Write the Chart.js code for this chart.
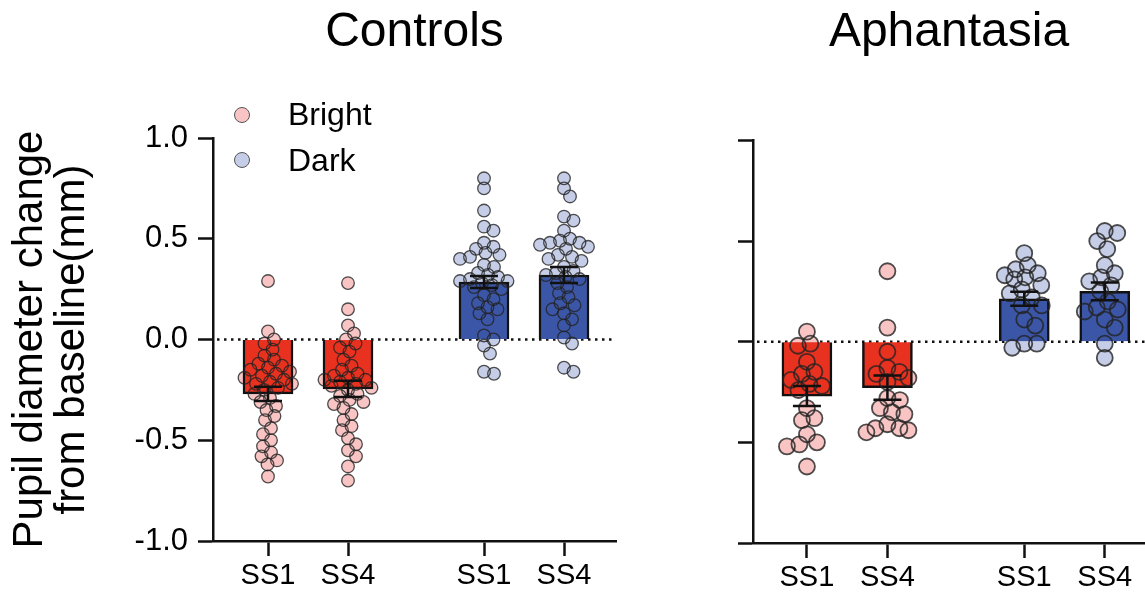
<!DOCTYPE html>
<html>
<head>
<meta charset="utf-8">
<script src="https://cdn.jsdelivr.net/npm/chart.js@4.4.0/dist/chart.umd.min.js"></script>
<style>
  body { margin: 0; background: #fff; width: 1145px; height: 595px; overflow: hidden; position: relative;
         font-family: "Liberation Sans", Arial, Helvetica, sans-serif; }
  canvas { position: absolute; top: 0; }
  #controlsChart { left: 0; }
  #aphantasiaChart { left: 630px; }
  .key { position: absolute; left: 234px; width: 16px; height: 16px; box-sizing: border-box;
         border: 1.2px solid #555; border-radius: 50%; z-index: 2; }
  .key-label { position: absolute; left: 288px; font-size: 32px; line-height: 32px; color: #000; z-index: 2; }
</style>
</head>
<body>
<canvas id="controlsChart" width="630" height="595"></canvas>
<canvas id="aphantasiaChart" width="515" height="595"></canvas>
<div class="key" style="top:107px; background:#F8C4C4"></div>
<div class="key-label" style="top:98px">Bright</div>
<div class="key" style="top:152px; background:#C6CEE7"></div>
<div class="key-label" style="top:144px">Dark</div>
<script>
// x slots: Bright SS1, Bright SS4, Dark SS1, Dark SS4
const ssLabels = ['SS1', 'SS4', 'SS1', 'SS4'];
const xPositions = [1, 2, 3.7, 4.7];
const yTicks = [-1, -0.5, 0, 0.5, 1];
const yTitle = ['Pupil diameter change', 'from baseline(mm)'];

// Controls, individual subjects (mm)
const controlsBrightSS1 = [0.29, 0.04, 0.0, -0.02, -0.05, -0.08, -0.10, -0.12, -0.13, -0.14, -0.15, -0.16, -0.17,
  -0.18, -0.19, -0.20, -0.21, -0.22, -0.22, -0.24, -0.25, -0.27, -0.29, -0.31, -0.33, -0.35, -0.38, -0.40,
  -0.44, -0.47, -0.50, -0.53, -0.56, -0.58, -0.60, -0.62, -0.68];
const controlsBrightSS4 = [0.28, 0.15, 0.07, 0.03, 0.0, -0.02, -0.04, -0.06, -0.10, -0.13, -0.15, -0.17, -0.18,
  -0.19, -0.20, -0.20, -0.21, -0.22, -0.23, -0.24, -0.25, -0.27, -0.28, -0.30, -0.31, -0.32, -0.34, -0.37,
  -0.40, -0.43, -0.45, -0.49, -0.52, -0.55, -0.58, -0.63, -0.70];
const controlsDarkSS1 = [0.80, 0.75, 0.64, 0.56, 0.54, 0.48, 0.46, 0.45, 0.43, 0.42, 0.41, 0.40, 0.37, 0.36,
  0.33, 0.32, 0.31, 0.30, 0.29, 0.29, 0.28, 0.27, 0.26, 0.25, 0.22, 0.20, 0.18, 0.16, 0.15, 0.13, 0.10, 0.02,
  0.0, -0.03, -0.07, -0.16, -0.17];
const controlsDarkSS4 = [0.80, 0.75, 0.71, 0.61, 0.59, 0.54, 0.50, 0.49, 0.48, 0.48, 0.47, 0.46, 0.45, 0.42,
  0.41, 0.40, 0.39, 0.36, 0.34, 0.33, 0.32, 0.31, 0.30, 0.28, 0.26, 0.23, 0.21, 0.18, 0.17, 0.15, 0.13, 0.10,
  0.07, 0.01, -0.02, -0.14, -0.16];
const controlsMeans = [-0.27, -0.245, 0.285, 0.32];
const controlsSem = [0.035, 0.04, 0.03, 0.04];

// Aphantasia, individual subjects (mm)
const aphantasiaBrightSS1 = [0.05, -0.01, -0.02, -0.10, -0.15, -0.16, -0.19, -0.21, -0.22, -0.24, -0.33, -0.38,
  -0.39, -0.46, -0.50, -0.51, -0.52, -0.62];
const aphantasiaBrightSS4 = [0.35, 0.07, -0.05, -0.13, -0.15, -0.16, -0.18, -0.20, -0.28, -0.29, -0.33, -0.35,
  -0.36, -0.41, -0.43, -0.43, -0.44, -0.45];
const aphantasiaDarkSS1 = [0.44, 0.38, 0.36, 0.34, 0.33, 0.32, 0.31, 0.28, 0.26, 0.24, 0.22, 0.18, 0.18, 0.11,
  0.08, -0.01, -0.01, -0.03];
const aphantasiaDarkSS4 = [0.55, 0.54, 0.50, 0.46, 0.38, 0.34, 0.32, 0.30, 0.28, 0.25, 0.20, 0.17, 0.16, 0.15,
  0.11, 0.07, -0.01, -0.08];
const aphantasiaMeans = [-0.27, -0.228, 0.213, 0.25];
const aphantasiaSem = [0.05, 0.06, 0.035, 0.044];

Chart.defaults.font.family = '"Liberation Sans", Arial, Helvetica, sans-serif';
Chart.defaults.color = '#000';

const BRIGHT_BAR = '#E8321F';
const DARK_BAR = '#3B56A6';
const BRIGHT_DOT = '#F8C4C4';
const DARK_DOT = '#C6CEE7';
const DOT_EDGE = 'rgba(35, 35, 35, 0.8)';

// dotted line at zero
const zeroLinePlugin = {
  id: 'zeroLine',
  beforeDatasetsDraw(chart) {
    const { ctx, chartArea, scales: { y } } = chart;
    const py = y.getPixelForValue(0);
    ctx.save();
    ctx.setLineDash([2.5, 4.5]);
    ctx.lineWidth = 2.5;
    ctx.strokeStyle = '#111';
    ctx.beginPath();
    ctx.moveTo(chartArea.left + 4, py);
    ctx.lineTo(chartArea.right, py);
    ctx.stroke();
    ctx.restore();
  }
};

// mean +/- SEM whiskers
const errorBarPlugin = {
  id: 'errorBars',
  afterDatasetsDraw(chart, args, opts) {
    const { ctx, scales: { x, y } } = chart;
    ctx.save();
    ctx.strokeStyle = '#111';
    ctx.lineWidth = 2.5;
    opts.means.forEach((m, i) => {
      const px = x.getPixelForValue(xPositions[i]);
      const lo = y.getPixelForValue(m - opts.sems[i]);
      const hi = y.getPixelForValue(m + opts.sems[i]);
      ctx.beginPath();
      ctx.moveTo(px, lo); ctx.lineTo(px, hi);
      ctx.moveTo(px - 14, lo); ctx.lineTo(px + 14, lo);
      ctx.moveTo(px - 14, hi); ctx.lineTo(px + 14, hi);
      ctx.stroke();
    });
    ctx.restore();
  }
};

// spread points sideways so they don't sit on top of each other
function swarmOffsets(values, yScale, minGap, maxSpread) {
  const placed = [];
  return values.map(v => {
    const py = yScale.getPixelForValue(v);
    let best = 0, bestDist = -1;
    for (let k = 0; k <= maxSpread * 4; k++) {
      const off = (k % 2 ? 1 : -1) * Math.ceil(k / 2) * 0.5;
      let d = Infinity;
      placed.forEach(p => { d = Math.min(d, Math.hypot(p.x - off, p.y - py)); });
      if (d >= minGap) { best = off; bestDist = d; break; }
      if (d > bestDist) { best = off; bestDist = d; }
    }
    placed.push({ x: best, y: py });
    return best;
  });
}

function buildPanel(canvasId, p) {
  const pts = (groups) => groups.flatMap(g => g.values.map(v => ({ x: xPositions[g.slot], y: v })));
  const brightGroups = [{ slot: 0, values: p.groups[0] }, { slot: 1, values: p.groups[1] }];
  const darkGroups = [{ slot: 2, values: p.groups[2] }, { slot: 3, values: p.groups[3] }];

  const dotFill = (label, groups, color) => ({
    type: 'scatter', label, data: pts(groups), order: 4,
    pointRadius: p.dotRadius, pointBackgroundColor: color, pointBorderWidth: 0
  });
  const dotEdge = (label, groups) => ({
    type: 'scatter', label, data: pts(groups), order: 2,
    pointRadius: p.dotRadius, pointBackgroundColor: 'rgba(0,0,0,0)',
    pointBorderColor: DOT_EDGE, pointBorderWidth: p.dotBorder
  });

  const chart = new Chart(document.getElementById(canvasId), {
    type: 'bar',
    data: {
      datasets: [
        { label: 'Bright', data: [0, 1].map(i => ({ x: xPositions[i], y: p.means[i] })),
          backgroundColor: BRIGHT_BAR, borderColor: '#111', borderWidth: 2.5, barThickness: 50, grouped: false, order: 3 },
        { label: 'Dark', data: [2, 3].map(i => ({ x: xPositions[i], y: p.means[i] })),
          backgroundColor: DARK_BAR, borderColor: '#111', borderWidth: 2.5, barThickness: 50, grouped: false, order: 3 },
        dotFill('Bright', brightGroups, BRIGHT_DOT),
        dotFill('Dark', darkGroups, DARK_DOT),
        dotEdge('Bright', brightGroups),
        dotEdge('Dark', darkGroups)
      ]
    },
    options: {
      responsive: false,
      animation: false,
      events: [],
      layout: { autoPadding: false, padding: { left: 0, right: p.padRight, top: 0, bottom: 0 } },
      plugins: {
        legend: { display: false },
        tooltip: { enabled: false },
        title: {
          display: true, text: p.title, fullSize: false, color: '#000',
          font: { size: 48, weight: 'normal', lineHeight: 1.2 },
          padding: { top: 4, bottom: p.titleGap }
        },
        errorBars: { means: p.means, sems: p.sems }
      },
      scales: {
        x: {
          type: 'linear', min: p.xMin, max: p.xMax, offset: false,
          afterBuildTicks: axis => { axis.ticks = xPositions.map(v => ({ value: v })); },
          afterFit: axis => { axis.height = p.xAxisHeight; axis.paddingLeft = 0; axis.paddingRight = 0; },
          border: { color: '#111', width: 2.5 },
          grid: { offset: false, drawOnChartArea: false, tickLength: 15, tickWidth: 2.5, tickColor: '#111' },
          ticks: { padding: 3, font: { size: 29 }, color: '#000', maxRotation: 0, autoSkip: false,
                   callback: v => ssLabels[xPositions.indexOf(v)] }
        },
        y: {
          min: -1, max: 1,
          afterBuildTicks: axis => { axis.ticks = yTicks.map(v => ({ value: v })); },
          afterFit: axis => { axis.width = p.yAxisWidth; },
          border: { color: '#111', width: 2.5 },
          grid: { drawOnChartArea: false, tickLength: 15, tickWidth: 2.5, tickColor: '#111' },
          ticks: { display: p.showYLabels, padding: 10, font: { size: 31 }, color: '#000',
                   callback: v => v.toFixed(1) },
          title: { display: p.showYLabels, text: yTitle, color: '#000',
                   font: { size: 42, lineHeight: 1.0 }, padding: { top: 9, bottom: 0 } }
        }
      }
    },
    plugins: [zeroLinePlugin, errorBarPlugin]
  });

  // lay the points out as a swarm around each bar centre
  const { x, y } = chart.scales;
  const spread = (groups) => groups.flatMap(g => {
    const offs = swarmOffsets(g.values, y, p.minGap, p.maxSpread);
    const cx = x.getPixelForValue(xPositions[g.slot]);
    return g.values.map((v, i) => ({ x: x.getValueForPixel(cx + offs[i]), y: v }));
  });
  const brightPts = spread(brightGroups);
  const darkPts = spread(darkGroups);
  chart.data.datasets[2].data = brightPts;
  chart.data.datasets[4].data = brightPts.map(d => ({ ...d }));
  chart.data.datasets[3].data = darkPts;
  chart.data.datasets[5].data = darkPts.map(d => ({ ...d }));
  chart.update('none');
  return chart;
}

buildPanel('controlsChart', {
  title: 'Controls',
  groups: [controlsBrightSS1, controlsBrightSS4, controlsDarkSS1, controlsDarkSS4],
  means: controlsMeans, sems: controlsSem,
  xMin: 0.3125, xMax: 5.35, yAxisWidth: 213, padRight: 14,
  titleGap: 76.4, xAxisHeight: 54, showYLabels: true,
  dotRadius: 6.3, dotBorder: 1.3, minGap: 10, maxSpread: 24
});

buildPanel('aphantasiaChart', {
  title: 'Aphantasia',
  groups: [aphantasiaBrightSS1, aphantasiaBrightSS4, aphantasiaDarkSS1, aphantasiaDarkSS4],
  means: aphantasiaMeans, sems: aphantasiaSem,
  xMin: 0.33, xMax: 5.2, yAxisWidth: 123, padRight: 0,
  titleGap: 78.8, xAxisHeight: 52, showYLabels: false,
  dotRadius: 8, dotBorder: 1.8, minGap: 12.5, maxSpread: 21
});
</script>
</body>
</html>
